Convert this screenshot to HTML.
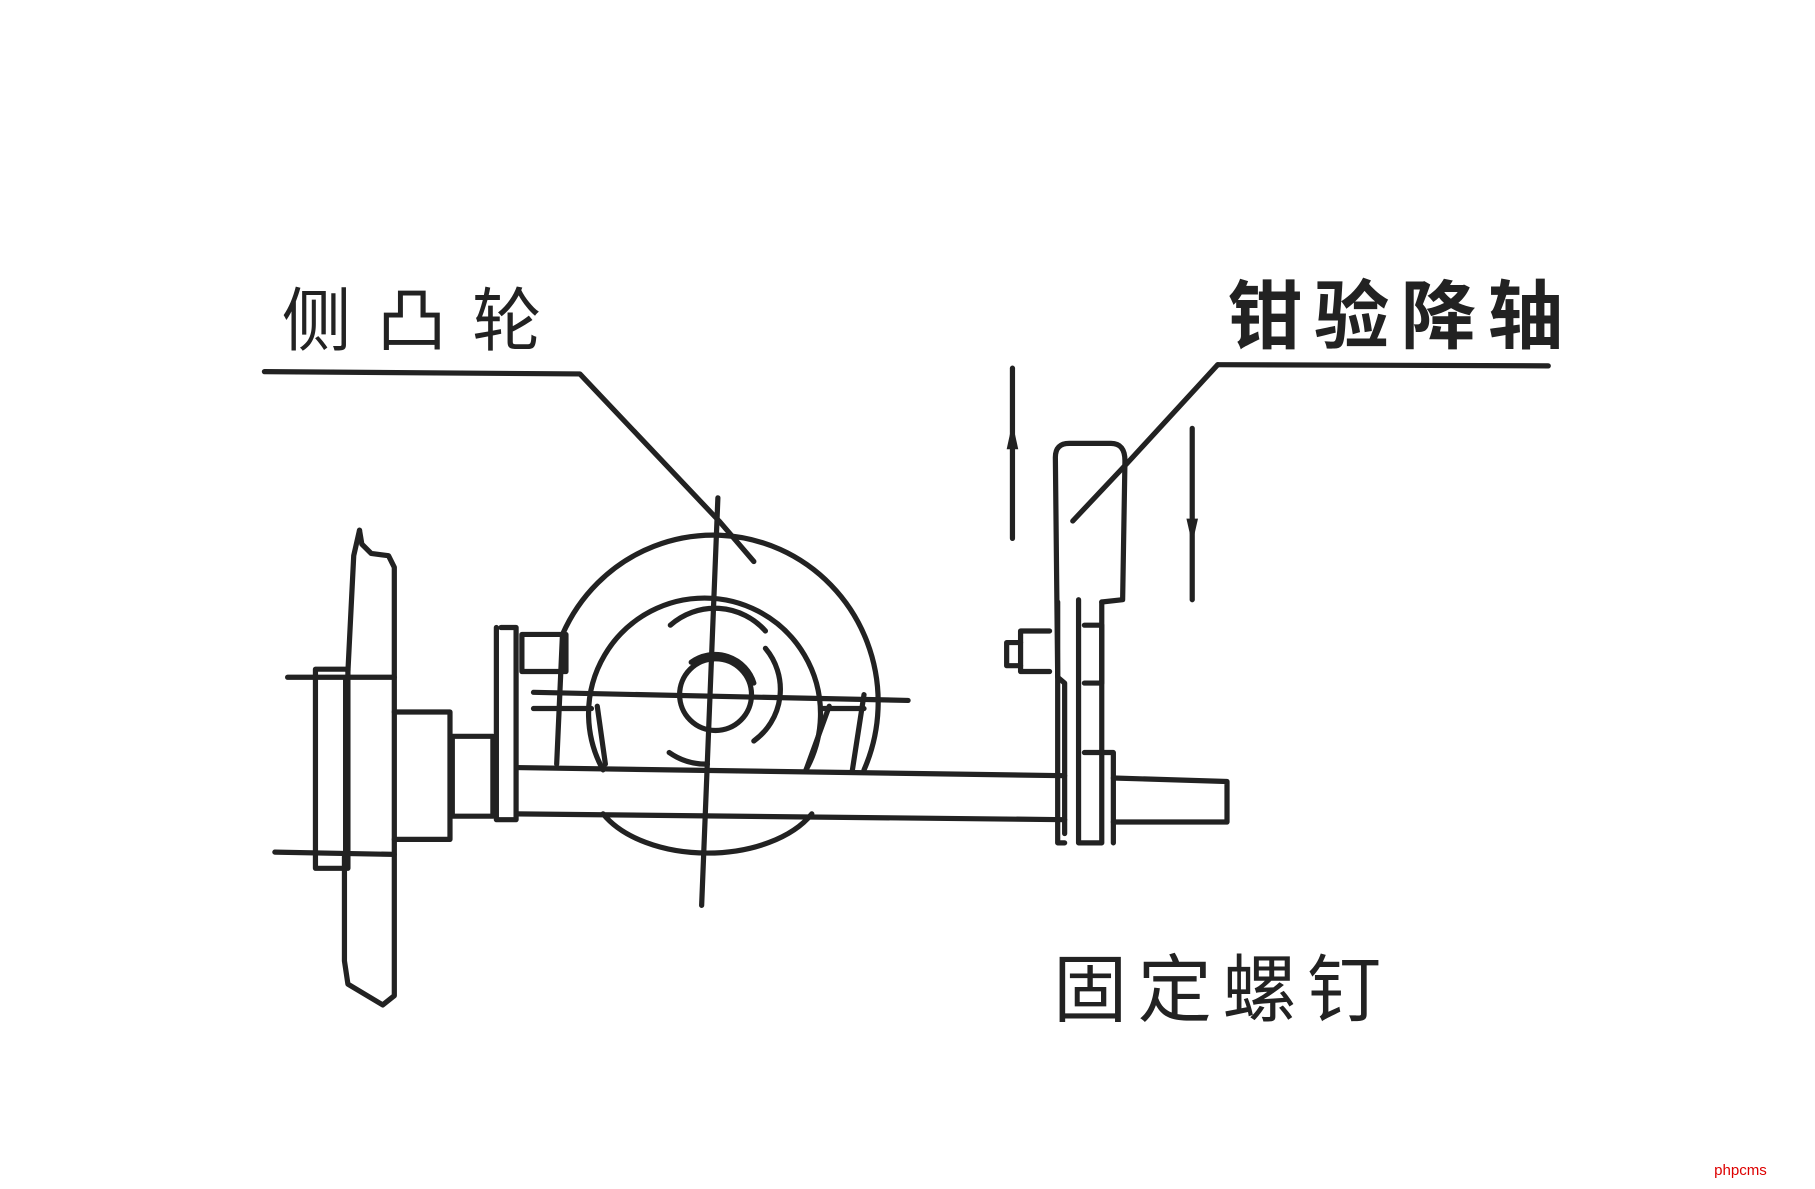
<!DOCTYPE html>
<html><head><meta charset="utf-8"><style>
html,body{margin:0;padding:0;background:#fff;width:1815px;height:1189px;overflow:hidden}
svg{display:block}
text{font-family:"Liberation Sans","Noto Sans CJK SC",sans-serif;fill:#222}
</style></head><body>
<svg width="1815" height="1189" viewBox="0 0 1565 1027" preserveAspectRatio="none">
<g fill="none" stroke="#222" stroke-width="4.5" stroke-linecap="round" stroke-linejoin="round">
<polyline points="228,321 500,323 620,450 650,485"/>
<polyline points="1050,315 1335,316"/>
<polyline points="1050,315 972,400 925,450"/>
<line x1="873" y1="318" x2="873" y2="465"/>
<line x1="1028" y1="370" x2="1028" y2="518"/>
<path d="M485,548 A135,137 0 1 1 745,665"/>
<path d="M520,665 A100,100 0 1 1 695,665"/>
<path d="M578,540 A58,58 0 0 1 660,545"/>
<path d="M596,572 A35,35 0 0 1 650,590"/>
<circle cx="617" cy="600" r="31"/>
<path d="M660,560 A55,55 0 0 1 650,640"/>
<path d="M577,650 A55,55 0 0 0 610,660"/>
<path d="M520,703 A100,60 0 0 0 700,703"/>
<line x1="485" y1="548" x2="480" y2="660"/>
<line x1="745" y1="600" x2="735" y2="665"/>
<line x1="715" y1="610" x2="695" y2="665"/>
<line x1="515" y1="610" x2="522" y2="660"/>
<line x1="460" y1="598" x2="783" y2="605"/>
<line x1="460" y1="612" x2="510" y2="612"/>
<line x1="710" y1="612" x2="745" y2="612"/>
<line x1="619" y1="430" x2="605" y2="782"/>
<polyline points="450,580 450,548 488,548 488,580 450,580"/>
<line x1="445" y1="663" x2="918" y2="670"/>
<line x1="445" y1="703" x2="918" y2="708"/>
<polyline points="960,672 1058,675 1058,710 960,710"/>
<polyline points="428,542 428,708 445,708 445,542 432,542"/>
<polyline points="390,636 425,636 425,705 390,705 390,636"/>
<polyline points="340,615 388,615 388,725 340,725"/>
<path d="M310,458 L312,470 L320,478 L335,480 L340,490 L340,860 L330,868 L300,850 L297,830 L297,740"/>
<path d="M310,458 L305,480 L300,580"/>
<polyline points="272,578 300,578 300,750 272,750 272,578"/>
<line x1="248" y1="585" x2="340" y2="585"/>
<line x1="237" y1="736" x2="340" y2="738"/>
<line x1="298" y1="585" x2="298" y2="740"/>
<path d="M918,720 L918,590 L912,585 L910,395 Q910,383 922,383 L958,383 Q970,383 970,398 L968,518 L950,520"/>
<polyline points="930,518 930,728 950,728 950,520"/>
<polyline points="918,728 912,728 912,520"/>
<polyline points="935,540 950,540 950,590 935,590"/>
<polyline points="935,650 960,650 960,728"/>
<polyline points="905,545 880,545 880,580 905,580"/>
<polyline points="880,555 868,555 868,575 880,575"/>
</g>
<g fill="#222"><polygon points="873,365 868,388 878,388"/><polygon points="1028,470 1023,448 1033,448"/></g>
<text x="243" y="298" font-size="60" letter-spacing="22">侧凸轮</text>
<text x="1058" y="296" font-size="65" font-weight="bold" letter-spacing="10">钳验降轴</text>
<text x="908" y="877" font-size="64" letter-spacing="9">固定螺钉</text>
<text x="1478" y="1015" font-size="13" style="fill:#d00">phpcms</text>
</svg>
</body></html>
